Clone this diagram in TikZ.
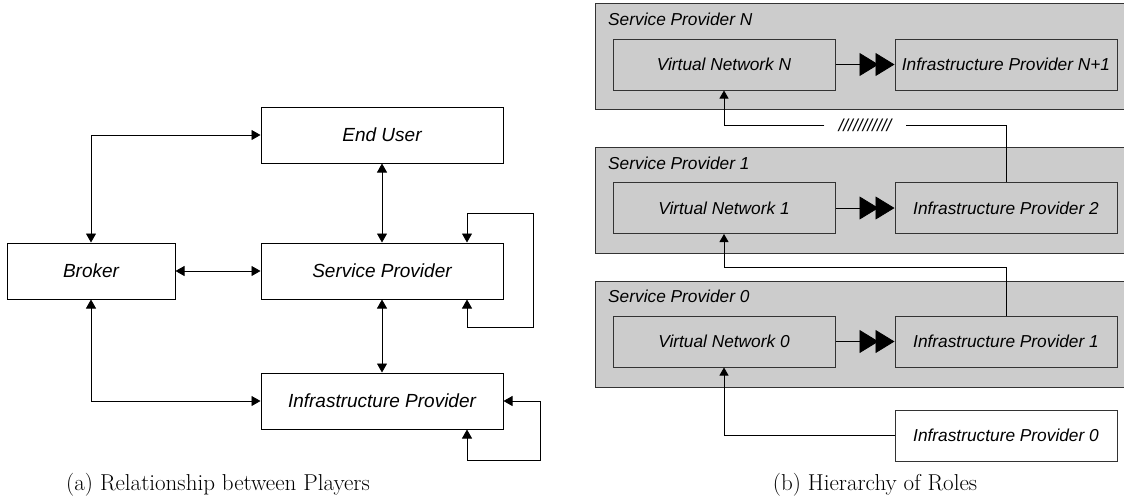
\documentclass[tikz,border=0pt]{standalone}
\usepackage{fontspec}
\newfontfamily\arialfont{Liberation Sans}
\usetikzlibrary{positioning,arrows.meta,calc}

\begin{document}
\begin{tikzpicture}[
  x=1pt, y=-1pt,
  player/.style={rectangle, draw, line width=1pt, fill=white, minimum width=242pt, minimum height=56pt, font=\arialfont\itshape\fontsize{19}{22}\selectfont},
  panel/.style={rectangle, draw=black!80, line width=1pt, fill=black!20, minimum width=531pt, minimum height=106pt},
  role/.style={rectangle, draw=black!80, line width=1pt, fill=black!20, minimum width=222pt, minimum height=51pt, font=\arialfont\itshape\fontsize{17.3}{20}\selectfont},
  title/.style={font=\arialfont\itshape\fontsize{17.3}{20}\selectfont, inner sep=2pt},
  biarrow/.style={{Triangle[length=9pt,width=10pt]}-{Triangle[length=9pt,width=10pt]}, line width=0.8pt},
  arrow/.style={-{Triangle[length=8pt,width=9pt]}, line width=0.8pt},
  dblarrow/.style={-{Triangle[length=19pt,width=23pt,sep=-3pt]Triangle[length=19pt,width=23pt]}, line width=0.8pt},
  caption/.style={font=\fontsize{23}{27}\selectfont},
]
\useasboundingbox (0,0) rectangle (1124,499);

% (a) players
\node[player] (enduser) at (382,135) {End User};
\node[player, minimum width=168pt] (broker) at (91,271) {Broker};
\node[player] (sp) at (382,271) {Service Provider};
\node[player] (ip) at (382,401) {Infrastructure Provider};

\draw[biarrow] (broker.north) |- (enduser.west);
\draw[biarrow] (broker.south) |- (ip.west);
\draw[biarrow] (broker) -- (sp);
\draw[biarrow] (enduser) -- (sp);
\draw[biarrow] (sp) -- (ip);
\draw[biarrow] ([xshift=85pt]sp.south) -- ++(0,28) -- ++(66,0) -- ++(0,-114) -- ++(-66,0) -- ([xshift=85pt]sp.north);
\draw[biarrow] (ip.east) -- ++(37,0) -- ++(0,59) -| ([xshift=85pt]ip.south);

\node[caption] (capa) at (218,485) {(a) Relationship between Players};

% (b) roles
\node[panel] (spN) at (860.5,56) {};
\node[panel] (sp1) at (860.5,200) {};
\node[panel] (sp0) at (860.5,334) {};
\node[title, anchor=west] at (606,19) {Service Provider N};
\node[title, anchor=west] at (606,163) {Service Provider 1};
\node[title, anchor=west] at (606,296) {Service Provider 0};

\node[role] (vnN) at (724,64.5) {Virtual Network N};
\node[role] (ipN1) at (1006,64.5) {Infrastructure Provider N+1};
\node[role] (vn1) at (724,208) {Virtual Network 1};
\node[role] (ip2) at (1006,208) {Infrastructure Provider 2};
\node[role] (vn0) at (724,341.5) {Virtual Network 0};
\node[role] (ip1) at (1006,341.5) {Infrastructure Provider 1};
\node[role, fill=white] (ip0) at (1006,435.5) {Infrastructure Provider 0};

\draw[dblarrow] (vnN) -- (ipN1);
\draw[dblarrow] (vn1) -- (ip2);
\draw[dblarrow] (vn0) -- (ip1);

\node[title, inner xsep=14pt] (skip) at (865,125) {///////////};
\draw[line width=0.8pt] (ip2.north) |- (skip.east);
\draw[arrow] (skip.west) -| (vnN.south);
\draw[arrow] (ip1.north) -- ++(0,-48) -| (vn1.south);
\draw[arrow] (ip0.west) -| (vn0.south);

\node[caption] (capb) at (875,485) {(b) Hierarchy of Roles};

\end{tikzpicture}
\end{document}
